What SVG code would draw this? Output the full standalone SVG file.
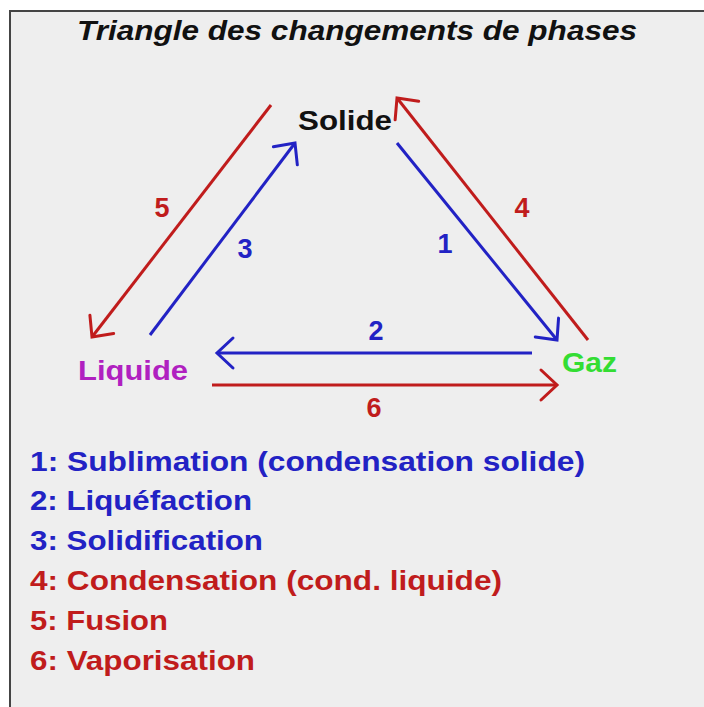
<svg xmlns="http://www.w3.org/2000/svg" width="704" height="707" viewBox="0 0 704 707">
<defs>
<style>
text{font-family:"Liberation Sans",Arial,sans-serif;font-weight:bold;}
.title{font-size:28px;font-style:italic;fill:#111;}
.node{font-size:28px;}
.num{font-size:27px;text-anchor:middle;}
.leg{font-size:28px;}
.b{fill:#2222c4;}
.r{fill:#c01c1c;}
.lb{stroke:#2222c4;stroke-width:3;fill:none;}
.lr{stroke:#c01c1c;stroke-width:3;fill:none;}
</style>
<marker id="ab" markerUnits="userSpaceOnUse" markerWidth="40" markerHeight="40" refX="0" refY="0" viewBox="-20 -20 40 40" orient="auto" overflow="visible">
<path d="M-16,-15 L0,0 L-16,15" fill="none" stroke="#2222c4" stroke-width="3" stroke-linecap="round" stroke-linejoin="miter"/>
</marker>
<marker id="ar" markerUnits="userSpaceOnUse" markerWidth="40" markerHeight="40" refX="0" refY="0" viewBox="-20 -20 40 40" orient="auto" overflow="visible">
<path d="M-16,-15 L0,0 L-16,15" fill="none" stroke="#c01c1c" stroke-width="3" stroke-linecap="round" stroke-linejoin="miter"/>
</marker>
</defs>
<rect x="0" y="0" width="704" height="707" fill="#ffffff"/>
<rect x="10" y="11" width="710" height="710" fill="#eeeeee" stroke="#444444" stroke-width="2"/>
<text class="title" x="77" y="40" textLength="560" lengthAdjust="spacingAndGlyphs">Triangle des changements de phases</text>
<g id="solide"><text class="node" x="298" y="130" fill="#111111" textLength="94" lengthAdjust="spacingAndGlyphs">Solide</text></g>
<g id="liquide"><text class="node" x="78" y="380" fill="#b020c0" textLength="110" lengthAdjust="spacingAndGlyphs">Liquide</text></g>
<g id="gaz"><text class="node" x="562" y="372" fill="#33dd33" textLength="55" lengthAdjust="spacingAndGlyphs">Gaz</text></g>
<g id="connectors">
<line class="lr" x1="271" y1="105" x2="92" y2="337" marker-end="url(#ar)"/>
<line class="lb" x1="150" y1="335" x2="295" y2="143" marker-end="url(#ab)"/>
<line class="lb" x1="397" y1="143" x2="557" y2="340" marker-end="url(#ab)"/>
<line class="lr" x1="588" y1="340" x2="397" y2="98" marker-end="url(#ar)"/>
<line class="lb" x1="532" y1="353" x2="217" y2="353" marker-end="url(#ab)"/>
<line class="lr" x1="212" y1="385" x2="557" y2="385" marker-end="url(#ar)"/>
<text class="num r" x="162" y="217">5</text>
<text class="num b" x="245" y="258">3</text>
<text class="num b" x="445" y="253">1</text>
<text class="num r" x="522" y="217">4</text>
<text class="num b" x="376" y="340">2</text>
<text class="num r" x="374" y="417">6</text>
</g>
<g id="legend">
<text class="leg b" x="30" y="471" textLength="555" lengthAdjust="spacingAndGlyphs">1: Sublimation (condensation solide)</text>
<text class="leg b" x="30" y="510" textLength="222" lengthAdjust="spacingAndGlyphs">2: Liquéfaction</text>
<text class="leg b" x="30" y="550" textLength="233" lengthAdjust="spacingAndGlyphs">3: Solidification</text>
<text class="leg r" x="30" y="590" textLength="472" lengthAdjust="spacingAndGlyphs">4: Condensation (cond. liquide)</text>
<text class="leg r" x="30" y="630" textLength="138" lengthAdjust="spacingAndGlyphs">5: Fusion</text>
<text class="leg r" x="30" y="670" textLength="225" lengthAdjust="spacingAndGlyphs">6: Vaporisation</text>
</g>
</svg>
